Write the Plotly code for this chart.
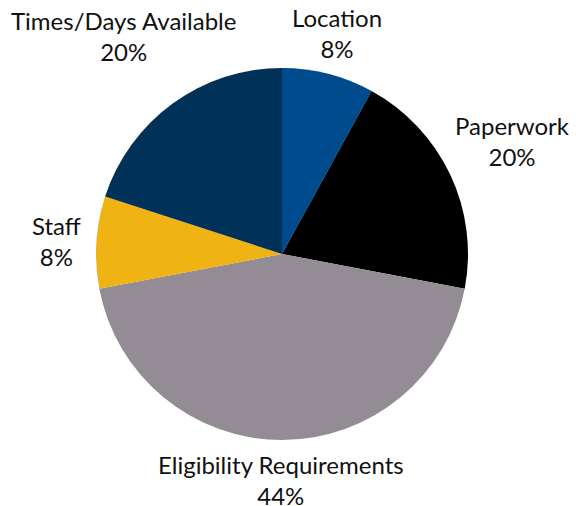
import plotly.graph_objects as go

labels = ["Location", "Paperwork", "Eligibility Requirements", "Staff", "Times/Days Available"]
values = [8, 20, 44, 8, 20]
pct_text = ["8%", "20%", "44%", "8%", "20%"]
colors = ["#004B8D", "#000000", "#948C94", "#EFB314", "#003159"]

# label block centre (page pixels)
label_x = [337, 512, 281, 57, 123]
label_y = [32, 139.5, 479, 240, 35]

OFF = 8          # browser body margin
FW, FH = 571, 498  # figure size so that it fits the 579x506 window


def px(x):
    return (x - OFF) / FW


def py(y):
    return 1 - (y - OFF) / FH


fig = go.Figure(go.Pie(
    labels=labels,
    values=values,
    sort=False,
    direction="clockwise",
    rotation=0,
    marker=dict(colors=colors, line=dict(width=0)),
    textinfo="none",
    automargin=False,
    showlegend=False,
    hoverinfo="label+percent",
    domain=dict(x=[px(96), px(468)], y=[py(440), py(68)]),
))

font = dict(family="Lato, sans-serif", size=24, color="#111111")
for lab, pt, x, y in zip(labels, pct_text, label_x, label_y):
    fig.add_annotation(x=px(x), y=py(y + 1), xref="paper", yref="paper",
                       text=f"{lab}<br>{pt}", showarrow=False, xanchor="center", yanchor="middle",
                       align="center", font=font)

fig.update_layout(
    width=FW, height=FH,
    margin=dict(l=0, r=0, t=0, b=0),
    paper_bgcolor="white",
    plot_bgcolor="white",
)

fig.write_html("out.html")
